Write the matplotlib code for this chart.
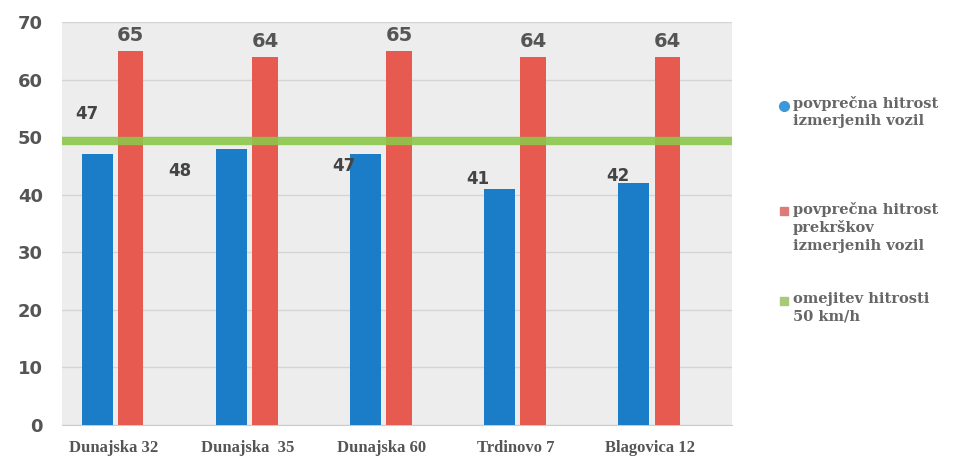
import numpy as np
import matplotlib
matplotlib.use("Agg")
import matplotlib.pyplot as plt
from matplotlib.lines import Line2D

categories = ["Dunajska 32", "Dunajska  35", "Dunajska 60", "Trdinovo 7", "Blagovica 12"]
avg_speed = [47, 48, 47, 41, 42]
avg_speeding = [65, 64, 65, 64, 64]
limit = 50

legend_labels = [
    "povprečna hitrost\nizmerjenih vozil",
    "povprečna hitrost\nprekrškov\nizmerjenih vozil",
    "omejitev hitrosti\n50 km/h",
]

blue = "#1b7dc8"
red = "#e65a50"
green = "#8cc84b"
txt = "#555555"

fig = plt.figure(figsize=(9.59, 4.69), dpi=100)
ax = fig.add_axes([0.065, 0.094, 0.698, 0.859])
ax.set_facecolor("#ededed")

x = np.arange(len(categories))
ax.bar(x - 0.12, avg_speed, width=0.23, color=blue, zorder=3)
ax.bar(x + 0.13, avg_speeding, width=0.19, color=red, zorder=3)
ax.axhline(limit - 0.6, color=green, lw=6, alpha=0.9, zorder=4)

# blue labels sit left of the bars, scanned placement is a bit uneven
blue_off = [(12, 29), (-18, -16), (4, -8), (4, 7), (8, 5)]
for i, v in enumerate(avg_speed):
    ax.annotate(str(v), (x[i] - 0.235, v), xytext=blue_off[i], textcoords="offset points",
                ha="right", va="center", fontsize=12, fontweight="bold",
                color="#444444", zorder=5)
for i, v in enumerate(avg_speeding):
    ax.text(x[i] + 0.13, v + 2.6, str(v), ha="center", va="center",
            fontsize=14, fontweight="bold", color="#555555", zorder=5)

ax.set_ylim(0, 70)
ax.set_yticks(range(0, 71, 10))
ax.set_xlim(-0.38, 4.61)
ax.set_xticks(x)
ax.set_xticklabels(categories, family="Liberation Serif", fontweight="bold",
                   fontsize=12, color=txt)
for lab in ax.get_yticklabels():
    lab.set_fontweight("bold")
    lab.set_fontsize(13)
    lab.set_color(txt)
ax.tick_params(length=0, pad=14)
ax.tick_params(axis="x", pad=11)
ax.grid(axis="y", color="#d4d4d4", lw=1, zorder=0)
for s in ["top", "right", "left"]:
    ax.spines[s].set_visible(False)
ax.spines["bottom"].set_color("#cccccc")

# legend, drawn by hand so the uneven gaps of the original can be kept
leg_marks = [("o", "#3a9ad9", 7), ("s", "#dd7b78", 6), ("s", "#a8c87a", 6)]
leg_top = [0.795, 0.57, 0.378]
for (m, c, ms), lab, top in zip(leg_marks, legend_labels, leg_top):
    fig.add_artist(Line2D([0.818], [top - 0.02], transform=fig.transFigure,
                          marker=m, color=c, markersize=ms, ls=""))
    fig.text(0.827, top, lab, ha="left", va="top", family="DejaVu Serif",
             fontweight="bold", fontsize=10.5, color="#666666", linespacing=1.3)

fig.savefig("out.png", dpi=100)
